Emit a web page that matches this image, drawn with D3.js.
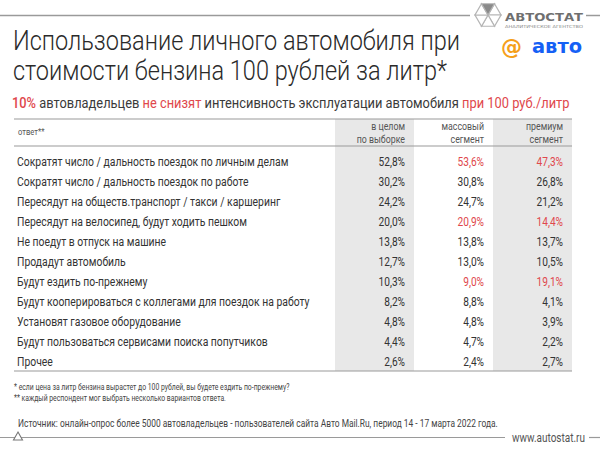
<!DOCTYPE html>
<html><head><meta charset="utf-8">
<script src="https://cdn.jsdelivr.net/npm/d3@7"></script>
<style>body{margin:0;background:#fff}svg{display:block}</style>
</head><body><svg id="c" width="600" height="449"></svg>
<script>
// ---------- data ----------
const answers = [
  "Сократят число / дальность поездок по личным делам",
  "Сократят число / дальность поездок по работе",
  "Пересядут на обществ.транспорт / такси  / каршеринг",
  "Пересядут на велосипед, будут ходить пешком",
  "Не поедут в отпуск на машине",
  "Продадут автомобиль",
  "Будут ездить по-прежнему",
  "Будут кооперироваться с коллегами для поездок на работу",
  "Установят газовое оборудование",
  "Будут пользоваться сервисами поиска попутчиков",
  "Прочее"
];
const overall = [52.8, 30.2, 24.2, 20.0, 13.8, 12.7, 10.3, 8.2, 4.8, 4.4, 2.6];
const mass    = [53.6, 30.8, 24.7, 20.9, 13.8, 13.0, 9.0, 8.8, 4.8, 4.7, 2.4];
const premium = [47.3, 26.8, 21.2, 14.4, 13.7, 10.5, 19.1, 4.1, 3.9, 2.2, 2.7];
const columns = ["overall", "mass", "premium"];
const columnHeaders = [["в целом", "по выборке"], ["массовый", "сегмент"], ["премиум", "сегмент"]];
const highlightedRows = [[], [0, 3, 6], [0, 3, 6]];
const titleLines = ["Использование личного автомобиля при", "стоимости бензина 100 рублей за литр*"];
const subtitleParts = [["10%", true], [" автовладельцев ", false], ["не снизят", true],
  [" интенсивность эксплуатации автомобиля ", false], ["при 100 руб./литр", true]];
const footnotes = ["* если цена за литр бензина вырастет до 100 рублей, вы будете ездить по-прежнему?",
  "** каждый респондент мог выбрать несколько вариантов ответа."];
const sourceText = "Источник: онлайн-опрос более 5000 автовладельцев - пользователей сайта Авто Mail.Ru, период 14 - 17 марта 2022 года.";
const siteText = "www.autostat.ru";

// ---------- drawing ----------
const RED = "#e0474c", DARK = "#333", GRID = "#9a9a9a", SHADE = "#e8e8e8";
const FONT = "Roboto, 'Noto Sans', sans-serif";
const svg = d3.select("#c");
const SX = 0.8;

function T(parent, x, y, s, size, o = {}) {
  return parent.append("text")
    .attr("transform", `translate(${x},${y}) scale(${o.sx || SX},1)`)
    .attr("font-family", o.family || FONT)
    .attr("font-size", size)
    .attr("font-weight", o.weight || 400)
    .attr("fill", o.fill || DARK)
    .attr("text-anchor", o.anchor || "start")
    .text(s);
}

const values = { overall, mass, premium };
const y = d3.scaleBand().domain(d3.range(answers.length)).range([151, 371]);
const x = d3.scaleBand().domain(columns).range([335, 572]);
const tableTop = 119, headerBottom = 146;

// shaded columns
svg.selectAll("rect.shade").data(["overall", "premium"]).join("rect")
  .attr("x", d => x(d)).attr("width", x.bandwidth())
  .attr("y", tableTop).attr("height", y.range()[1] - tableTop)
  .attr("fill", SHADE);

// lines
[tableTop, headerBottom, y.range()[1]].forEach(v =>
  svg.append("line").attr("x1", 14).attr("x2", 572).attr("y1", v).attr("y2", v)
    .attr("stroke", GRID).attr("stroke-width", 1.2));

// header
T(svg, 18, 135, "ответ**", 9.5, { fill: "#555" });
columns.forEach((c, i) => {
  columnHeaders[i].forEach((h, j) =>
    T(svg, x(c) + x.bandwidth() - 9, 130 + j * 13, h, 11, { anchor: "end", fill: "#555" }));
});

// rows
const fmt = v => d3.format(".1f")(v).replace(".", ",") + "%";
answers.forEach((a, i) => {
  const cy = y(i) + y.bandwidth() / 2 + 4.5;
  T(svg, 17, cy, a, 13);
  columns.forEach((c, k) => {
    T(svg, x(c) + x.bandwidth() - 9, cy, fmt(values[c][i]), 13,
      { anchor: "end", fill: highlightedRows[k].includes(i) ? RED : DARK, sx: 0.78 });
  });
});

// title
titleLines.forEach((t, i) => T(svg, 13, 50 + i * 29.5, t, 27.5, { weight: 300, sx: 0.855, fill: "#2a2a2a" }));

// subtitle
const sub = svg.append("text").attr("transform", "translate(12,108) scale(0.83,1)")
  .attr("font-family", FONT).attr("font-size", 15.5);
subtitleParts.forEach(([s, red], i) => sub.append("tspan")
  .attr("fill", red ? RED : "#3a3a3a").attr("font-weight", i === 0 ? 500 : 400).text(s));

// footnotes & source
footnotes.forEach((f, i) => T(svg, 14, 390 + i * 11, f, 9.5, { fill: "#444", sx: 0.72 }));
T(svg, 18, 427, sourceText, 10.5, { fill: "#444" });

// top rule + logo
svg.append("line").attr("x1", 0).attr("x2", 470).attr("y1", 15.5).attr("y2", 15.5).attr("stroke", GRID).attr("stroke-width", 1.5);
svg.append("line").attr("x1", 586).attr("x2", 600).attr("y1", 15.5).attr("y2", 15.5).attr("stroke", GRID).attr("stroke-width", 1.5);
const hex = svg.append("g").attr("transform", "translate(488,15)");
const R = 13;
const pts = d3.range(6).map(k => [R * Math.cos(Math.PI / 3 * k - Math.PI / 2 + Math.PI / 6), R * Math.sin(Math.PI / 3 * k - Math.PI / 2 + Math.PI / 6)]);
d3.range(6).forEach(k => {
  const p1 = pts[k], p2 = pts[(k + 1) % 6];
  hex.append("path").attr("d", `M0,0L${p1[0]},${p1[1]}L${p2[0]},${p2[1]}Z`)
    .attr("fill", k === 5 ? "#8a8a8a" : "#fff").attr("stroke", "#b5b5b5").attr("stroke-width", 1.2);
});
svg.append("text").attr("x", 505).attr("y", 21).attr("font-family", "'DejaVu Sans', sans-serif")
  .attr("font-weight", 700).attr("font-size", 10.5).attr("fill", "#6f6f6f")
  .attr("textLength", 78).attr("lengthAdjust", "spacingAndGlyphs").text("АВТОСТАТ");
svg.append("text").attr("x", 505).attr("y", 27.5).attr("font-family", "'DejaVu Sans', sans-serif")
  .attr("font-size", 4.2).attr("fill", "#888")
  .attr("textLength", 78).attr("lengthAdjust", "spacingAndGlyphs").text("АНАЛИТИЧЕСКОЕ АГЕНТСТВО");
svg.append("text").attr("x", 501).attr("y", 54).attr("font-family", "'DejaVu Sans', sans-serif")
  .attr("font-weight", 700).attr("font-size", 21).attr("fill", "#f5a01a").text("@");
svg.append("text").attr("x", 532).attr("y", 53).attr("font-family", "'DejaVu Sans', sans-serif")
  .attr("font-weight", 700).attr("font-size", 19).attr("fill", "#1560f5")
  .attr("textLength", 50).attr("lengthAdjust", "spacingAndGlyphs").text("авто");

// bottom rule
svg.append("line").attr("x1", 0).attr("x2", 505).attr("y1", 437.5).attr("y2", 437.5).attr("stroke", GRID).attr("stroke-width", 1.2);
svg.append("line").attr("x1", 589).attr("x2", 600).attr("y1", 437.5).attr("y2", 437.5).attr("stroke", GRID).attr("stroke-width", 1.2);
svg.append("path").attr("d", "M18,432L22.5,440L13.5,440Z").attr("fill", "#fff").attr("stroke", "#777").attr("stroke-width", 1.1);
T(svg, 585, 441.5, siteText, 12.5, { anchor: "end", fill: "#555" });
</script></body></html>
